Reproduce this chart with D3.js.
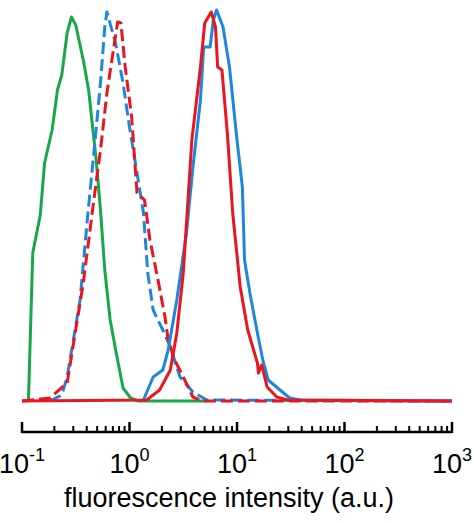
<!DOCTYPE html>
<html><head><meta charset="utf-8">
<script src="https://cdn.jsdelivr.net/npm/d3@7"></script>
<style>body{margin:0;background:#fff}</style>
</head><body><div id="chart"></div>
<script>
// Values: log10 intensity and counts (arbitrary units)
var greenLog = [-0.94,-0.90,-0.83,-0.79,-0.72,-0.67,-0.63,-0.58,-0.54,-0.50,-0.43,-0.38,-0.31,-0.27,-0.23,-0.18,-0.12,-0.06,0.01,0.08,0.7];
var greenCnt = [0,148,186,238,271,311,326,368,384,376,341,311,241,191,131,81,46,13,3,0,0];

var blueDashLog = [-0.74,-0.63,-0.58,-0.46,-0.39,-0.32,-0.27,-0.23,-0.21,-0.13,-0.06,0.00,0.07,0.13,0.17,0.22,0.31,0.38,0.47,0.59,0.72,3.0];
var blueDashCnt = [0,6,24,101,184,261,318,374,389,358,318,274,228,188,128,91,71,54,24,9,1,0];

var redDashLog = [-1,-0.74,-0.58,-0.43,-0.34,-0.27,-0.21,-0.15,-0.11,-0.08,-0.04,0.02,0.07,0.14,0.19,0.26,0.33,0.36,0.42,0.50,0.59,0.68,3.0];
var redDashCnt = [0,3,18,118,194,251,308,351,379,378,334,284,208,201,161,124,84,61,41,24,4,0,0];

var blueLog = [0.10,0.13,0.22,0.31,0.36,0.44,0.53,0.59,0.66,0.69,0.75,0.78,0.81,0.87,0.93,1.00,1.05,1.07,1.12,1.19,1.24,1.29,1.40,1.49,1.59,3.0];
var blueCnt = [0,1,24,31,51,101,168,234,301,354,354,381,391,374,334,261,214,141,108,68,41,21,11,3,1,0];

var redLog = [-1,0.16,0.28,0.38,0.44,0.50,0.58,0.66,0.70,0.76,0.80,0.82,0.86,0.91,0.96,1.03,1.10,1.19,1.20,1.23,1.28,1.37,1.47,3.0];
var redCnt = [0,1,11,31,68,128,261,334,378,389,374,334,331,268,188,114,71,38,28,36,14,4,1,0];

var tickExps = [-1,0,1,2,3];

var svg = d3.select("#chart").append("svg").attr("width",474).attr("height",523);

var x = d3.scaleLog().domain([0.1,1000]).range([22,452]);
var y = d3.scaleLinear().domain([0,389]).range([401,12]);

var line = d3.line().x(d => x(Math.pow(10,d[0]))).y(d => y(d[1]));

function series(lg, cnt, color, dash) {
    svg.append("path")
        .datum(lg.map((v,i) => [v,cnt[i]]))
        .attr("d", line)
        .attr("fill","none")
        .attr("stroke",color)
        .attr("stroke-width",3)
        .attr("stroke-linejoin","round")
        .attr("stroke-dasharray", dash ? "12,5" : null);
}
series(greenLog, greenCnt, "#1aa64b", false);
series(blueDashLog, blueDashCnt, "#1f86e0", true);
series(redDashLog, redDashCnt, "#e8161e", true);
series(blueLog, blueCnt, "#1f86e0", false);
series(redLog, redCnt, "#e8161e", false);

// Axis with upward ticks
var axisY = 432;
svg.append("line").attr("x1",22).attr("x2",452).attr("y1",axisY).attr("y2",axisY)
    .attr("stroke","#000").attr("stroke-width",2.5);
var minor = [];
for (var e = -1; e < 3; e++) for (var m = 2; m < 10; m++) minor.push(m*Math.pow(10,e));
svg.selectAll(".minor").data(minor).enter().append("line")
    .attr("x1",d => x(d)).attr("x2",d => x(d)).attr("y1",axisY).attr("y2",axisY-6)
    .attr("stroke","#000").attr("stroke-width",2);
svg.selectAll(".major").data(tickExps).enter().append("line")
    .attr("x1",d => x(Math.pow(10,d))).attr("x2",d => x(Math.pow(10,d))).attr("y1",axisY+1).attr("y2",axisY-10)
    .attr("stroke","#000").attr("stroke-width",2.5);

var lab = svg.selectAll(".lab").data(tickExps).enter().append("text")
    .attr("x",d => x(Math.pow(10,d)))
    .attr("y",473)
    .attr("text-anchor","middle")
    .style("font-family","Liberation Sans, Arial, sans-serif")
    .style("font-size","27px");
lab.append("tspan").text("10");
lab.append("tspan").attr("dy",-12).style("font-size","18px").text(d => d);

svg.append("text").attr("x",229).attr("y",507).attr("text-anchor","middle")
    .style("font-family","Liberation Sans, Arial, sans-serif").style("font-size","27px")
    .text("fluorescence intensity (a.u.)");
</script></body></html>
